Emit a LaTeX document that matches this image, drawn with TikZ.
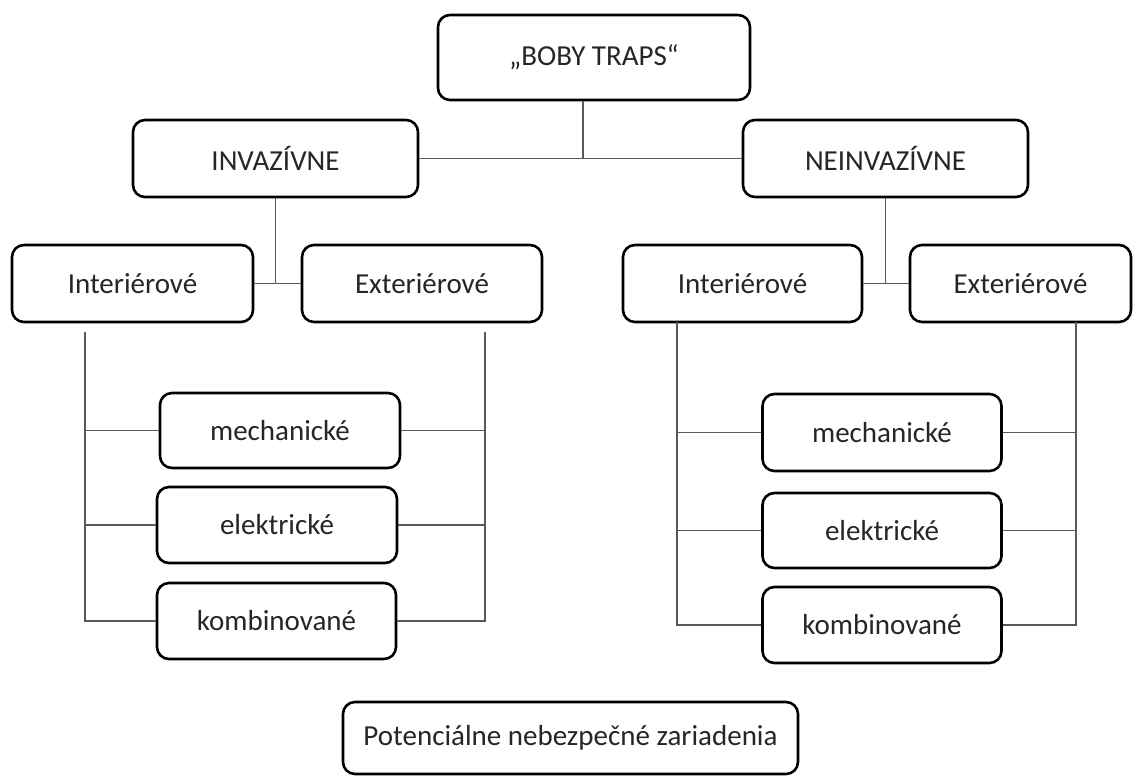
\documentclass[tikz,border=0pt]{standalone}
\usepackage{fontspec}
\setmainfont{Carlito}
\tikzset{
  box/.style={draw, line width=1.3pt, rounded corners=6pt, fill=white,
    font=\fontsize{14.5}{17}\selectfont, text=black!85, inner sep=0pt},
  link/.style={draw=black!65, line width=0.7pt}
}
\begin{document}
\begin{tikzpicture}[x=0.5pt,y=-0.5pt]
    \useasboundingbox (0,0) rectangle (1140,776);

    % Top level
    \node[box, minimum width=156pt, minimum height=42.5pt] (traps) at (594,57.5) {„BOBY TRAPS“};
    \node[box, minimum width=142.5pt, minimum height=38.5pt] (inv) at (275.5,158.5) {INVAZÍVNE};
    \node[box, minimum width=142.5pt, minimum height=38.5pt] (neinv) at (885.5,158.5) {NEINVAZÍVNE};

    % Second level
    \node[box, minimum width=120.5pt, minimum height=38.5pt] (intL) at (132.5,283.5) {Interiérové};
    \node[box, minimum width=120pt, minimum height=38.5pt] (extL) at (422,283.5) {Exteriérové};
    \node[box, minimum width=119.5pt, minimum height=38.5pt] (intR) at (742.5,283.5) {Interiérové};
    \node[box, minimum width=110.5pt, minimum height=38.5pt] (extR) at (1020.5,283.5) {Exteriérové};

    % Kinds (left)
    \node[box, minimum width=120pt, minimum height=37.5pt] (mechL) at (280,430.5) {mechanické};
    \node[box, minimum width=120pt, minimum height=38pt] (elekL) at (277,525) {elektrické};
    \node[box, minimum width=119.5pt, minimum height=38pt] (kombL) at (276.5,621) {kombinované};

    % Kinds (right)
    \node[box, minimum width=119.5pt, minimum height=38.5pt] (mechR) at (882,432.5) {mechanické};
    \node[box, minimum width=119.5pt, minimum height=37.5pt] (elekR) at (882,530.5) {elektrické};
    \node[box, minimum width=119.5pt, minimum height=38pt] (kombR) at (882,625) {kombinované};

    % Caption box
    \node[box, minimum width=227.5pt, minimum height=36pt] (pot) at (570.5,738) {Potenciálne nebezpečné zariadenia};

    % Tree connections
    \coordinate (topjoin) at (583,158.5);
    \draw[link] (inv.east) -- (neinv.west);
    \draw[link] (traps.south -| topjoin) -- (topjoin);
    \draw[link] (inv.south) -- (inv.south |- intL.east);
    \draw[link] (intL.east) -- (extL.west);
    \draw[link] (neinv.south) -- (neinv.south |- intR.east);
    \draw[link] (intR.east) -- (extR.west);

    % Bus lines
    \coordinate (busLa) at (85,332);
    \coordinate (busLb) at (485,332);
    \coordinate (busRa) at (677,322);
    \coordinate (busRb) at (1076,322);
    \draw[link] (busLa) -- (busLa |- kombL.west) -- (kombL.west);
    \draw[link] (busLb) -- (busLb |- kombL.east) -- (kombL.east);
    \draw[link] (busRa) -- (busRa |- kombR.west) -- (kombR.west);
    \draw[link] (busRb) -- (busRb |- kombR.east) -- (kombR.east);
    \foreach \n in {mechL,elekL} {
        \draw[link] (busLa |- \n.west) -- (\n.west);
        \draw[link] (busLb |- \n.east) -- (\n.east);
    }
    \foreach \n in {mechR,elekR} {
        \draw[link] (busRa |- \n.west) -- (\n.west);
        \draw[link] (busRb |- \n.east) -- (\n.east);
    }
\end{tikzpicture}
\end{document}
